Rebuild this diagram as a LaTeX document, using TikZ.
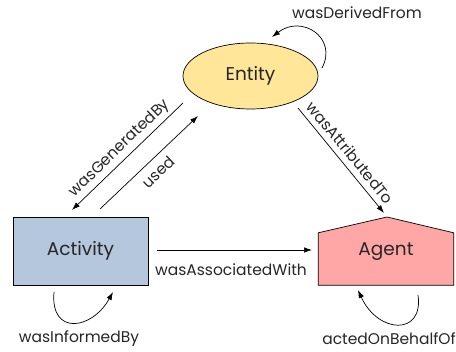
\documentclass[tikz,border=0pt]{standalone}
\usepackage{fontspec}
\setmainfont{Poppins}
\usetikzlibrary{arrows.meta,shapes.geometric}
\definecolor{entfill}{HTML}{FFE699}
\definecolor{actfill}{HTML}{B4C7DC}
\definecolor{agtfill}{HTML}{FFA6A6}
\tikzset{
  rel/.style={-{Latex[length=8pt,width=5.5pt]}, line width=0.7pt},
  lbl/.style={font=\fontsize{15.5}{18}\selectfont, text=black!85, inner sep=1pt},
  cls/.style={font=\fontsize{18.5}{22}\selectfont, text=black!85},
}
\begin{document}
\begin{tikzpicture}[x=1pt,y=-1pt]
  \useasboundingbox (0,0) rectangle (456,352);

  % classes
  \node[cls, ellipse, draw, fill=entfill, line width=0.7pt,
        minimum width=135, minimum height=66, inner sep=0] (entity) at (250.5,76) {Entity};
  \node[cls, rectangle, draw, fill=actfill, line width=0.7pt,
        minimum width=135, minimum height=68, inner sep=0] (activity) at (80.5,251) {Activity};
  \node[rectangle, minimum width=135, minimum height=52, inner sep=0] (agent) at (386,259) {};
  \coordinate (roof) at (387,217);
  \filldraw[fill=agtfill, line width=0.7pt, line join=miter]
    (agent.south west) -- (agent.north west) -- (roof) -- (agent.north east)
    -- (agent.south east) -- cycle;
  \node[cls] (agenttext) at (386,252) {Agent};

  % connector ends
  \coordinate (genS) at (183,103);
  \coordinate (genE) at (72,210);
  \coordinate (useS) at (100,209);
  \coordinate (useE) at (198,116);
  \coordinate (attS) at (298,108);
  \coordinate (attE) at (384,213);
  \coordinate (assS) at (157,250);
  \coordinate (assE) at (312,250);
  \coordinate (derS) at (322,68);
  \coordinate (derE) at (272,37);
  \coordinate (infS) at (54,292);
  \coordinate (infE) at (113,292);
  \coordinate (actS) at (418,295);
  \coordinate (actE) at (358,290);

  % relations
  \draw[rel] (genS) -- node[lbl, sloped, above=2pt] {wasGeneratedBy} (genE);
  \draw[rel] (useS) -- node[lbl, sloped, below=6pt] {used} (useE);
  \draw[rel] (attS) -- node[lbl, sloped, above=5pt] {wasAttributedTo} (attE);
  \draw[rel] (assS) -- (assE);
  \node[lbl] (asslbl) at (231,270) {wasAssociatedWith};

  \draw[rel] (derS) .. controls (338,38) and (302,14) .. (derE);
  \node[lbl] (derlbl) at (357,13) {wasDerivedFrom};

  \draw[rel] (infS) .. controls (50,336) and (92,330) .. (infE);
  \node[lbl] (inflbl) at (79,339) {wasInformedBy};

  \draw[rel] (actS) .. controls (424,336) and (378,334) .. (actE);
  \node[lbl] (actlbl) at (389,339) {actedOnBehalfOf};
\end{tikzpicture}
\end{document}
